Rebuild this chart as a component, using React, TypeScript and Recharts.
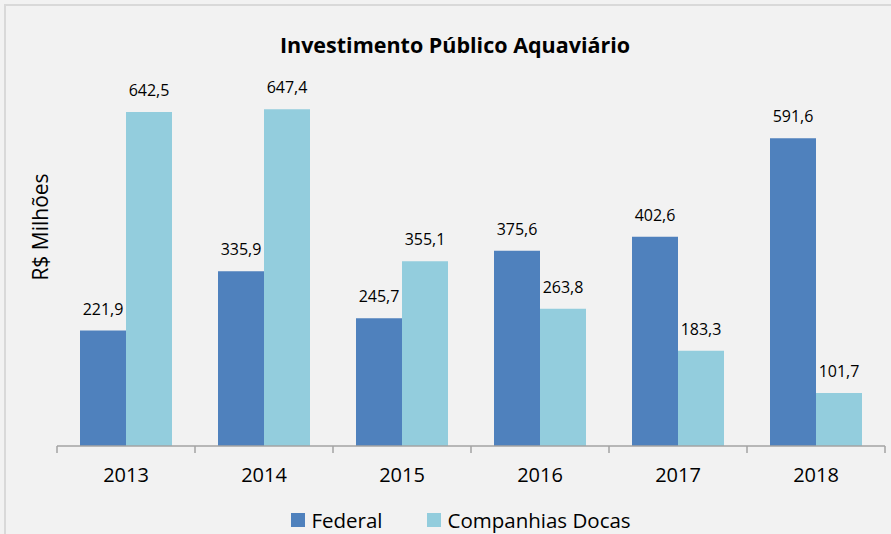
import { Bar, BarChart, LabelList, Legend, XAxis, YAxis } from "recharts";

const categories = ["2013", "2014", "2015", "2016", "2017", "2018"];
const federal = [221.9, 335.9, 245.7, 375.6, 402.6, 591.6];
const docas = [642.5, 647.4, 355.1, 263.8, 183.3, 101.7];
const seriesNames = ["Federal", "Companhias Docas"];

const FONT = "'Open Sans', sans-serif";
const COLOR_FEDERAL = "#4f81bd";
const COLOR_DOCAS = "#93cddd";
const AXIS_COLOR = "#a3a3a3";

const CHART_WIDTH = 891;
const CHART_HEIGHT = 534;
const Y_AXIS_WIDTH = 57;
const MARGIN = { top: 82, right: 6, left: 0, bottom: 2 };
const BAND = (CHART_WIDTH - Y_AXIS_WIDTH - MARGIN.right) / categories.length;

const data = categories.map((year, i) => ({
	year,
	federal: federal[i],
	docas: docas[i],
}));

function formatValue(value: unknown): string {
	if (typeof value === "number") {
		return value.toFixed(1).replace(".", ",");
	}
	return String(value ?? "");
}

function CategoryTick(props: any) {
	const { x, y, payload, index } = props;
	const half = BAND / 2;
	const isLast = index === categories.length - 1;
	return (
		<g>
			<line x1={x - half} y1={y} x2={x - half} y2={y + 7} stroke={AXIS_COLOR} strokeWidth={1.5} />
			{isLast && (
				<line x1={x + half} y1={y} x2={x + half} y2={y + 7} stroke={AXIS_COLOR} strokeWidth={1.5} />
			)}
			<text
				x={x}
				y={y + 22}
				dy="0.71em"
				textAnchor="middle"
				fill="#000"
				fontSize={20}
				fontFamily={FONT}
			>
				{payload.value}
			</text>
		</g>
	);
}

function YLabel() {
	const cx = 40;
	const cy = 227;
	return (
		<text
			x={cx}
			y={cy}
			transform={`rotate(-90, ${cx}, ${cy})`}
			textAnchor="middle"
			dominantBaseline="central"
			fill="#000"
			fontSize={21}
			fontFamily={FONT}
		>
			R$ Milhões
		</text>
	);
}

function LegendContent() {
	const colors = [COLOR_FEDERAL, COLOR_DOCAS];
	return (
		<div
			style={{
				display: "flex",
				justifyContent: "center",
				alignItems: "center",
				height: 24,
				gap: 45,
				paddingLeft: 37,
				fontFamily: FONT,
				fontSize: 20.5,
				color: "#000",
			}}
		>
			{seriesNames.map((name, i) => (
				<div key={name} style={{ display: "flex", alignItems: "center" }}>
					<span
						style={{
							display: "inline-block",
							width: 14,
							height: 14,
							background: colors[i],
							marginRight: 6,
						}}
					/>
					<span style={{ lineHeight: "24px" }}>{name}</span>
				</div>
			))}
		</div>
	);
}

export default function App() {
	return (
		<div
			style={{
				position: "absolute",
				left: 0,
				top: 0,
				width: CHART_WIDTH,
				height: CHART_HEIGHT,
				background: "#f2f2f2",
				overflow: "hidden",
				fontFamily: FONT,
			}}
		>
			<div
				style={{
					position: "absolute",
					left: 4,
					top: 4,
					width: CHART_WIDTH,
					height: CHART_HEIGHT,
					borderLeft: "2px solid #d9d9d9",
					borderTop: "2px solid #d9d9d9",
				}}
			/>
			<div
				style={{
					position: "absolute",
					left: 0,
					top: 30,
					width: 910,
					textAlign: "center",
					fontSize: 21.5,
					fontWeight: 700,
					lineHeight: "30px",
					color: "#000",
				}}
			>
				Investimento Público Aquaviário
			</div>
			<BarChart
				width={CHART_WIDTH}
				height={CHART_HEIGHT}
				data={data}
				margin={MARGIN}
				barCategoryGap={23}
				barGap={0}
			>
				<XAxis
					dataKey="year"
					height={62}
					stroke={AXIS_COLOR}
					axisLine={{ stroke: AXIS_COLOR, strokeWidth: 1.5 }}
					tickLine={false}
					tickSize={0}
					tickMargin={0}
					tick={<CategoryTick />}
					interval={0}
				/>
				<YAxis
					width={Y_AXIS_WIDTH}
					domain={[0, 700]}
					tick={false}
					axisLine={false}
					tickLine={false}
					label={<YLabel />}
				/>
				<Legend verticalAlign="bottom" height={24} content={<LegendContent />} />
				<Bar dataKey="federal" name={seriesNames[0]} fill={COLOR_FEDERAL} isAnimationActive={false}>
					<LabelList
						dataKey="federal"
						position="top"
						offset={16}
						formatter={formatValue}
						fill="#000"
						fontSize={16}
						fontFamily={FONT}
					/>
				</Bar>
				<Bar dataKey="docas" name={seriesNames[1]} fill={COLOR_DOCAS} isAnimationActive={false}>
					<LabelList
						dataKey="docas"
						position="top"
						offset={16}
						formatter={formatValue}
						fill="#000"
						fontSize={16}
						fontFamily={FONT}
					/>
				</Bar>
			</BarChart>
		</div>
	);
}
